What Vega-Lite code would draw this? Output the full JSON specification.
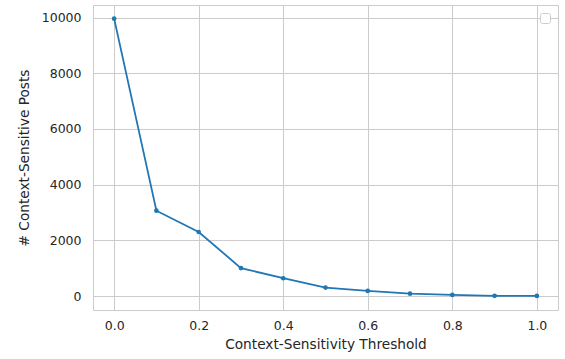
{
  "$schema": "https://vega.github.io/schema/vega-lite/v6.json",
  "width": 465,
  "height": 305,
  "autosize": "none",
  "padding": {"left": 93, "top": 5, "right": 7, "bottom": 49},
  "background": "white",
  "config": {
    "font": "DejaVu Sans",
    "view": {"stroke": "#cccccc", "strokeWidth": 1},
    "axis": {
      "gridColor": "#cccccc",
      "gridWidth": 1,
      "domain": false,
      "ticks": false,
      "labelFont": "DejaVu Sans",
      "labelFontSize": 12.5,
      "labelColor": "#262626",
      "titleFont": "DejaVu Sans",
      "titleFontSize": 13.7,
      "titleFontWeight": "normal",
      "titleColor": "#262626"
    },
    "legend": {
      "orient": "top-right",
      "offset": 8,
      "padding": 4.5,
      "strokeColor": "#cccccc",
      "fillColor": "white",
      "cornerRadius": 2,
      "labelFontSize": 1,
      "labelOffset": 0,
      "symbolSize": 1,
      "symbolOpacity": 0,
      "symbolStrokeWidth": 0,
      "title": null
    }
  },
  "data": {
    "values": [
      {"threshold": 0.0, "posts": 9960},
      {"threshold": 0.1, "posts": 3065},
      {"threshold": 0.2, "posts": 2300},
      {"threshold": 0.3, "posts": 1005},
      {"threshold": 0.4, "posts": 640},
      {"threshold": 0.5, "posts": 305},
      {"threshold": 0.6, "posts": 185},
      {"threshold": 0.7, "posts": 85},
      {"threshold": 0.8, "posts": 40},
      {"threshold": 0.9, "posts": 10},
      {"threshold": 1.0, "posts": 5}
    ]
  },
  "encoding": {
    "x": {
      "field": "threshold",
      "type": "quantitative",
      "title": "Context-Sensitivity Threshold",
      "scale": {"domain": [-0.05, 1.05], "nice": false, "zero": false},
      "axis": {"values": [0, 0.2, 0.4, 0.6, 0.8, 1.0], "format": ".1f", "labelPadding": 9, "titlePadding": 6}
    },
    "y": {
      "field": "posts",
      "type": "quantitative",
      "title": "# Context-Sensitive Posts",
      "scale": {"domain": [-500, 10450], "nice": false, "zero": false},
      "axis": {"values": [0, 2000, 4000, 6000, 8000, 10000], "format": "d", "labelPadding": 12, "titlePadding": 10}
    }
  },
  "layer": [
    {
      "mark": {"type": "line", "strokeWidth": 1.8},
      "encoding": {
        "color": {
          "datum": " ",
          "type": "nominal",
          "scale": {"range": ["#1f77b4"]},
          "legend": {"title": null}
        }
      }
    },
    {
      "mark": {"type": "point", "filled": true, "color": "#1f77b4", "size": 22, "opacity": 1}
    }
  ]
}
